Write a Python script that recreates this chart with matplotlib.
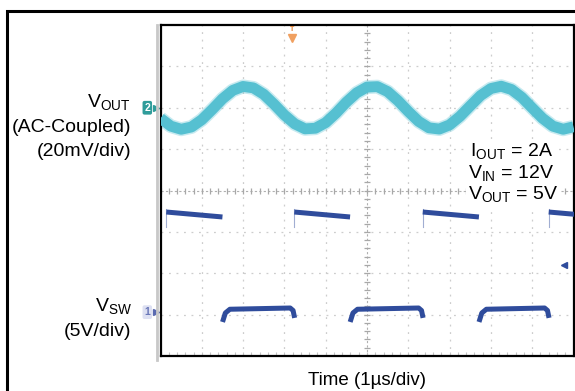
import matplotlib.pyplot as plt
import numpy as np
from matplotlib.patches import Rectangle
from matplotlib.lines import Line2D

plt.rcParams['font.family'] = ['Liberation Sans', 'DejaVu Sans']
plt.rcParams['mathtext.fontset'] = 'custom'
plt.rcParams['mathtext.rm'] = 'Liberation Sans'

# ---- data ----
# output ripple (AC coupled), mV, sampled every 0.25 us
time_us = [0.0, 0.25, 0.5, 0.75, 1.0, 1.25, 1.5, 1.75, 2.0, 2.25,
           2.5, 2.75, 3.0, 3.25, 3.5, 3.75, 4.0, 4.25, 4.5, 4.75,
           5.0, 5.25, 5.5, 5.75, 6.0, 6.25, 6.5, 6.75, 7.0, 7.25,
           7.5, 7.75, 8.0, 8.25, 8.5, 8.75, 9.0, 9.25, 9.5, 9.75, 10.0]
vout_mv = [-5.1, -8.9, -10.4, -9.3, -5.8, -0.9, 4.3, 8.4, 10.3, 9.6,
           6.5, 1.7, -3.5, -7.8, -10.2, -9.9, -7.2, -2.6, 2.7, 7.2,
           10.0, 10.2, 7.8, 3.4, -1.8, -6.6, -9.7, -10.3, -8.3, -4.2,
           0.9, 5.9, 9.3, 10.4, 8.8, 5.0, -0.1, -5.1, -8.9, -10.4, -9.2]

# switch node: edge times (us) and levels (V)
sw_rise_us = [0.14, 3.24, 6.35, 9.40]
sw_fall_us = [1.50, 4.59, 7.71]
sw_high_v = [12.1, 11.5]          # start / end of on-time
sw_low_dt = [0.02, 0.07, 0.18]    # after falling edge
sw_low_v_start = [-0.9, -0.1, 0.35]
sw_low_dt_end = [0.10, 0.03, 0.005]  # before next rising edge
sw_low_v_end = [0.5, 0.2, -0.4]
trig_level_v = 5.7
trig_time_us = 3.18

# scope settings
VOUT_MV_DIV, VOUT_POS = 20.0, 6.0
SW_V_DIV, SW_POS = 5.0, 1.06

W, H = 575, 391
fig = plt.figure(figsize=(W / 100, H / 100), dpi=100)
fig.patch.set_facecolor('white')

def fx(px):
    return px / W

def fy(py):
    return 1 - py / H

# outer frame (runs off the right/bottom edge)
fig.add_artist(Rectangle((fx(7), -0.1), 1.2, fy(11) + 0.1, transform=fig.transFigure,
                         fill=False, ec='black', lw=2.2))
# grey bezel strip at left of screen
fig.add_artist(Line2D([fx(157), fx(157)], [fy(360), fy(25)], transform=fig.transFigure,
                      color='#c8c8c8', lw=2))

ax = fig.add_axes([fx(160.5), fy(356), (573.5 - 160.5) / W, (356 - 25) / H])
ax.set_xlim(0, 10)
ax.set_ylim(0, 8)
for s in ax.spines.values():
    s.set_color('black')
    s.set_linewidth(1.6)
ax.set_xticks([])
ax.set_yticks([])

# graticule
for gx in range(1, 10):
    if gx != 5:
        ax.axvline(gx, color='#cdcdcd', lw=0.9, ls=(0, (1.5, 4.5)), zorder=0)
for gy in range(1, 8):
    if gy != 4:
        ax.axhline(gy, color='#cdcdcd', lw=0.9, ls=(0, (1.5, 4.5)), zorder=0)
ax.axvline(5, color='#b0b0b0', lw=0.8, ls=(0, (2, 2)), zorder=0)
ax.axhline(4, color='#b0b0b0', lw=0.8, ls=(0, (2, 2)), zorder=0)
minor_x = np.arange(0, 10.01, 0.2)
minor_y = np.arange(0, 8.01, 0.2)
ax.plot(minor_x, np.full_like(minor_x, 4), ls='none', marker='|', ms=4, mew=0.9,
        color='#a8a8a8', zorder=0)
ax.plot(np.full_like(minor_y, 5), minor_y, ls='none', marker='_', ms=4, mew=0.9,
        color='#a8a8a8', zorder=0)
ax.plot(minor_x, np.full_like(minor_x, 0.05), ls='none', marker='|', ms=3, mew=0.8,
        color='#c4c4c4', zorder=0)

# Vout trace
vout_y = VOUT_POS + np.array(vout_mv) / VOUT_MV_DIV
ax.plot(time_us, vout_y, color='#5fc4d4', lw=10, alpha=0.35, solid_capstyle='butt', zorder=2)
ax.plot(time_us, vout_y, color='#56c0d1', lw=7.8, solid_capstyle='butt', zorder=3)

# switch node trace
sw_col = '#2f4c9c'
on_time = sw_fall_us[0] - sw_rise_us[0]
falls = sw_fall_us + [sw_rise_us[-1] + on_time]
for r, f in zip(sw_rise_us, falls):
    ax.plot([r, f], [SW_POS + v / SW_V_DIV for v in sw_high_v], color=sw_col, lw=3.6,
            solid_capstyle='butt', zorder=3)
    ax.plot([r, r], [SW_POS + (sw_high_v[0] + 0.4) / SW_V_DIV, SW_POS + (sw_high_v[0] - 1.8) / SW_V_DIV],
            color=sw_col, lw=0.8, alpha=0.45, zorder=3)
for f, r in zip(sw_fall_us, sw_rise_us[1:]):
    t = [f + d for d in sw_low_dt] + [r - d for d in sw_low_dt_end]
    v = sw_low_v_start + sw_low_v_end
    ax.plot(t, [SW_POS + x / SW_V_DIV for x in v], color=sw_col, lw=3.6, zorder=3)

# channel / trigger markers
yt = ax.get_yaxis_transform()
ax.text(-0.032, VOUT_POS, '2', transform=yt, ha='center', va='center', fontsize=7.5,
        fontweight='bold', color='white',
        bbox=dict(boxstyle='round,pad=0.18', fc='#2f9c9a', ec='none'), clip_on=False)
ax.plot([-0.012], [VOUT_POS], transform=yt, marker='>', ms=4.5, color='#2f9c9a', clip_on=False)
ax.text(-0.032, SW_POS, '1', transform=yt, ha='center', va='center', fontsize=7.5,
        fontweight='bold', color='#6a78b8',
        bbox=dict(boxstyle='round,pad=0.18', fc='#dde0f2', ec='none'), clip_on=False)
ax.plot([-0.012], [SW_POS], transform=yt, marker='>', ms=4.5, color='#5a6ab0', clip_on=False)
xt = ax.get_xaxis_transform()
ax.plot([trig_time_us], [0.962], transform=xt, marker='v', ms=6, color='#f0a060', clip_on=False)
ax.text(trig_time_us, 0.985, 'T', transform=xt, ha='center', va='center', fontsize=5,
        fontweight='bold', color='#e07a2a', clip_on=False)
ax.plot([9.78], [SW_POS + trig_level_v / SW_V_DIV], marker='<', ms=4.5, color=sw_col)

# labels
fs = 14
fig.text(fx(131), fy(108), r'$\mathrm{V}_{\mathrm{OUT}}$', ha='right', va='baseline', fontsize=fs)
fig.text(fx(131), fy(132), '(AC-Coupled)', ha='right', va='baseline', fontsize=fs)
fig.text(fx(131), fy(156), '(20mV/div)', ha='right', va='baseline', fontsize=fs)
fig.text(fx(132), fy(312), r'$\mathrm{V}_{\mathrm{SW}}$', ha='right', va='baseline', fontsize=fs)
fig.text(fx(131), fy(336), '(5V/div)', ha='right', va='baseline', fontsize=fs)

box = dict(fc='white', ec='none', pad=1.5)
fig.text(fx(470), fy(157), r'$\mathrm{I}_{\mathrm{OUT}}$ = 2A', ha='left', va='baseline',
         fontsize=fs, bbox=box)
fig.text(fx(468), fy(179), r'$\mathrm{V}_{\mathrm{IN}}$ = 12V', ha='left', va='baseline',
         fontsize=fs, bbox=box)
fig.text(fx(468), fy(200), r'$\mathrm{V}_{\mathrm{OUT}}$ = 5V', ha='left', va='baseline',
         fontsize=fs, bbox=box)

fig.text(fx(367.5), fy(385), 'Time (1µs/div)', ha='center', va='baseline', fontsize=13.5)

fig.savefig('out.png', dpi=100, facecolor='white')
